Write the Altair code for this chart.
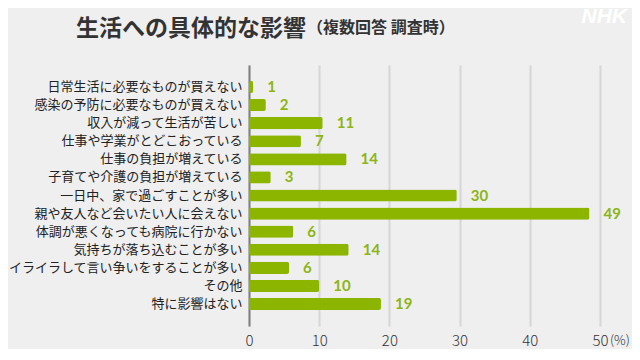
import altair as alt
import pandas as pd

categories = [
    "日常生活に必要なものが買えない",
    "感染の予防に必要なものが買えない",
    "収入が減って生活が苦しい",
    "仕事や学業がとどこおっている",
    "仕事の負担が増えている",
    "子育てや介護の負担が増えている",
    "一日中、家で過ごすことが多い",
    "親や友人など会いたい人に会えない",
    "体調が悪くなっても病院に行かない",
    "気持ちが落ち込むことが多い",
    "イライラして言い争いをすることが多い",
    "その他",
    "特に影響はない",
]
values = [0.6, 2.4, 10.5, 7.4, 13.9, 3.1, 29.6, 48.5, 6.3, 14.2, 5.7, 10.0, 18.8]
labels = ["1", "2", "11", "7", "14", "3", "30", "49", "6", "14", "6", "10", "19"]
x_ticks = [0, 10, 20, 30, 40, 50]

df = pd.DataFrame({"cat": categories, "val": values, "lab": labels})

W, H = 351, 261
GREEN = "#8cb500"
FONT = "Noto Sans CJK JP"

y_enc = alt.Y(
    "cat:N",
    sort=categories,
    title=None,
    scale=alt.Scale(paddingInner=0.33, paddingOuter=0.88),
    axis=alt.Axis(
        domain=True, domainColor="#808080", domainWidth=2,
        ticks=False, labelFont=FONT, labelFontSize=13, labelColor="#222222",
        labelPadding=7, grid=False, labelLimit=300,
    ),
)
x_enc = alt.X(
    "val:Q",
    title=None,
    scale=alt.Scale(domain=[0, 50], nice=False),
    axis=alt.Axis(
        values=x_ticks, grid=True, gridColor="#d6d6d6", gridWidth=2,
        domain=False, ticks=False, labelFont=FONT, labelFontSize=15,
        labelFontWeight=300, labelColor="#333333", labelPadding=7,
        labelFlush=False,
    ),
)

bars = alt.Chart(df).mark_bar(color=GREEN, cornerRadius=2).encode(x=x_enc, y=y_enc)

texts = alt.Chart(df).mark_text(
    align="left", baseline="middle", dx=14, font="Lato", fontSize=15,
    fontWeight="bold", color="#8db515",
).encode(x="val:Q", y=alt.Y("cat:N", sort=categories), text="lab:N")

pct = alt.Chart(pd.DataFrame({"t": ["(%)"]})).mark_text(
    align="left", baseline="middle", dx=10, font=FONT, fontSize=13,
    fontWeight=300, color="#333333",
).encode(x=alt.datum(50), y=alt.value(H + 15), text="t:N")

title = alt.Chart(pd.DataFrame({"t": ["生活への具体的な影響"]})).mark_text(
    align="left", baseline="middle", font=FONT, fontSize=23,
    fontWeight="bold", color="#333333",
).encode(x=alt.value(-173), y=alt.value(-36), text="t:N")

subtitle = alt.Chart(pd.DataFrame({"t": ["（複数回答 調査時）"]})).mark_text(
    align="left", baseline="middle", font=FONT, fontSize=16,
    fontWeight="bold", color="#333333",
).encode(x=alt.value(58), y=alt.value(-37), text="t:N")

logo = alt.Chart(pd.DataFrame({"t": ["NHK"]})).mark_text(
    align="right", baseline="middle", font="Liberation Sans", fontSize=21,
    fontWeight="bold", fontStyle="italic", color="#ffffff",
).encode(x=alt.value(378), y=alt.value(-48), text="t:N")

chart = alt.layer(bars, texts, pct, title, subtitle, logo).properties(
    width=W, height=H,
    autosize=alt.AutoSizeParams(type="none"),
    padding={"left": 241, "top": 57, "right": 32, "bottom": 23},
    background="#efefef",
).configure_view(strokeWidth=0)

chart.save("out.html", embed_options={"renderer": "svg", "actions": False})
